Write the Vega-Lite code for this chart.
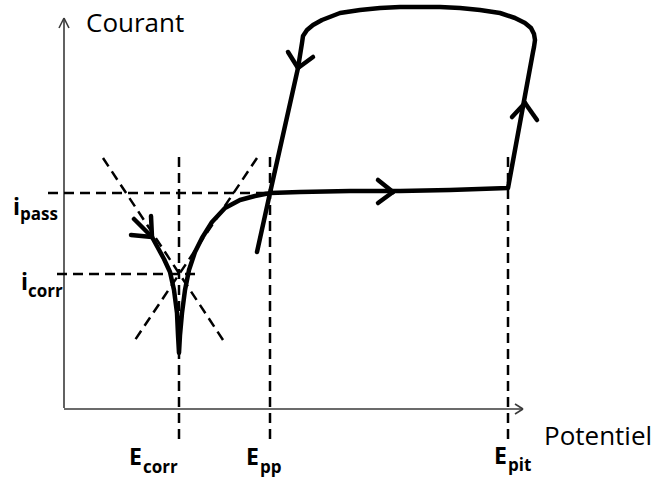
{
  "$schema": "https://vega.github.io/schema/vega-lite/v6.json",
  "width": 662,
  "height": 477,
  "padding": 0,
  "autosize": {"type": "fit", "contains": "padding"},
  "config": {"view": {"stroke": null}},
  "datasets": {
    "axes": [
      {"x": 64, "y": 69, "x2": 64, "y2": 459},
      {"x": 64, "y": 68, "x2": 523, "y2": 68},
      {"x": 59, "y": 449, "x2": 64, "y2": 459},
      {"x": 69, "y": 449, "x2": 64, "y2": 459},
      {"x": 515, "y": 73, "x2": 523, "y2": 68},
      {"x": 515, "y": 63, "x2": 523, "y2": 68}
    ],
    "guides": [
      {"x": 48, "y": 284, "x2": 270, "y2": 284},
      {"x": 57, "y": 203, "x2": 200, "y2": 203},
      {"x": 179, "y": 320, "x2": 179, "y2": 37},
      {"x": 270, "y": 320, "x2": 270, "y2": 37},
      {"x": 508, "y": 320, "x2": 508, "y2": 37},
      {"x": 103, "y": 319, "x2": 225, "y2": 134},
      {"x": 257, "y": 319, "x2": 133, "y2": 134}
    ],
    "curve": [
      {"i": 1, "x": 134, "y": 258},
      {"i": 2, "x": 152, "y": 240},
      {"i": 3, "x": 158, "y": 229},
      {"i": 4, "x": 164, "y": 218},
      {"i": 5, "x": 170, "y": 205},
      {"i": 6, "x": 174, "y": 187},
      {"i": 7, "x": 177, "y": 164},
      {"i": 8, "x": 178, "y": 142},
      {"i": 9, "x": 179, "y": 124},
      {"i": 10, "x": 180, "y": 142},
      {"i": 11, "x": 182, "y": 164},
      {"i": 12, "x": 185, "y": 187},
      {"i": 13, "x": 189, "y": 207},
      {"i": 14, "x": 195, "y": 225},
      {"i": 15, "x": 202, "y": 239},
      {"i": 16, "x": 212, "y": 255},
      {"i": 17, "x": 225, "y": 269},
      {"i": 18, "x": 240, "y": 277},
      {"i": 19, "x": 255, "y": 281},
      {"i": 20, "x": 270, "y": 284},
      {"i": 21, "x": 300, "y": 285},
      {"i": 22, "x": 350, "y": 286},
      {"i": 23, "x": 400, "y": 286},
      {"i": 24, "x": 450, "y": 287},
      {"i": 25, "x": 508, "y": 289},
      {"i": 26, "x": 533, "y": 425},
      {"i": 27, "x": 534, "y": 430},
      {"i": 28, "x": 535, "y": 437},
      {"i": 29, "x": 534, "y": 443},
      {"i": 30, "x": 531, "y": 449},
      {"i": 31, "x": 525, "y": 454},
      {"i": 32, "x": 515, "y": 459},
      {"i": 33, "x": 500, "y": 464},
      {"i": 34, "x": 480, "y": 467},
      {"i": 35, "x": 460, "y": 469},
      {"i": 36, "x": 440, "y": 470},
      {"i": 37, "x": 420, "y": 470},
      {"i": 38, "x": 400, "y": 470},
      {"i": 39, "x": 380, "y": 469},
      {"i": 40, "x": 360, "y": 467},
      {"i": 41, "x": 340, "y": 464},
      {"i": 42, "x": 322, "y": 457},
      {"i": 43, "x": 313, "y": 452},
      {"i": 44, "x": 307, "y": 447},
      {"i": 45, "x": 303, "y": 441},
      {"i": 46, "x": 302, "y": 434},
      {"i": 47, "x": 298, "y": 409},
      {"i": 48, "x": 270, "y": 284},
      {"i": 49, "x": 257, "y": 225}
    ],
    "arrows": [
      {"x": 378, "y": 297, "x2": 393, "y2": 285},
      {"x": 378, "y": 274, "x2": 393, "y2": 285},
      {"x": 288, "y": 425, "x2": 298, "y2": 409},
      {"x": 313, "y": 420, "x2": 298, "y2": 409},
      {"x": 512, "y": 360, "x2": 525, "y2": 374},
      {"x": 537, "y": 357, "x2": 525, "y2": 374},
      {"x": 131, "y": 242, "x2": 152, "y2": 240},
      {"x": 151, "y": 261, "x2": 152, "y2": 240}
    ],
    "titles": [
      {"t": "Courant", "x": 86, "y": 445},
      {"t": "Potentiel", "x": 544, "y": 32}
    ],
    "mains": [
      {"t": "E", "x": 129, "y": 12},
      {"t": "E", "x": 246, "y": 12},
      {"t": "E", "x": 494, "y": 13},
      {"t": "i", "x": 13, "y": 262},
      {"t": "i", "x": 21, "y": 187}
    ],
    "subs": [
      {"t": "corr", "x": 143, "y": 4},
      {"t": "pp", "x": 260, "y": 4},
      {"t": "pit", "x": 508, "y": 6},
      {"t": "pass", "x": 20, "y": 257},
      {"t": "corr", "x": 28, "y": 180}
    ]
  },
  "encoding": {
    "x": {"field": "x", "type": "quantitative", "axis": null, "scale": {"domain": [0, 662], "nice": false, "zero": false}},
    "y": {"field": "y", "type": "quantitative", "axis": null, "scale": {"domain": [0, 477], "nice": false, "zero": false}}
  },
  "layer": [
    {
      "data": {"name": "axes"},
      "mark": {"type": "rule", "color": "#3a3a3a", "strokeWidth": 1.6},
      "encoding": {"x2": {"field": "x2"}, "y2": {"field": "y2"}}
    },
    {
      "data": {"name": "guides"},
      "mark": {"type": "rule", "color": "#000000", "strokeWidth": 2.5, "strokeDash": [10, 6]},
      "encoding": {"x2": {"field": "x2"}, "y2": {"field": "y2"}}
    },
    {
      "data": {"name": "curve"},
      "mark": {"type": "line", "color": "#000000", "strokeWidth": 4.5, "strokeCap": "round", "strokeJoin": "round"},
      "encoding": {"order": {"field": "i", "type": "quantitative"}}
    },
    {
      "data": {"name": "arrows"},
      "mark": {"type": "rule", "color": "#000000", "strokeWidth": 4.5, "strokeCap": "round"},
      "encoding": {"x2": {"field": "x2"}, "y2": {"field": "y2"}}
    },
    {
      "data": {"name": "titles"},
      "mark": {"type": "text", "align": "left", "baseline": "alphabetic", "font": "Open Sans", "fontSize": 26, "color": "#000000"},
      "encoding": {"text": {"field": "t"}}
    },
    {
      "data": {"name": "mains"},
      "mark": {"type": "text", "align": "left", "baseline": "alphabetic", "font": "Open Sans", "fontSize": 23, "fontWeight": "bold", "color": "#000000"},
      "encoding": {"text": {"field": "t"}}
    },
    {
      "data": {"name": "subs"},
      "mark": {"type": "text", "align": "left", "baseline": "alphabetic", "font": "Open Sans", "fontSize": 17, "fontWeight": "bold", "color": "#000000"},
      "encoding": {"text": {"field": "t"}}
    }
  ]
}
